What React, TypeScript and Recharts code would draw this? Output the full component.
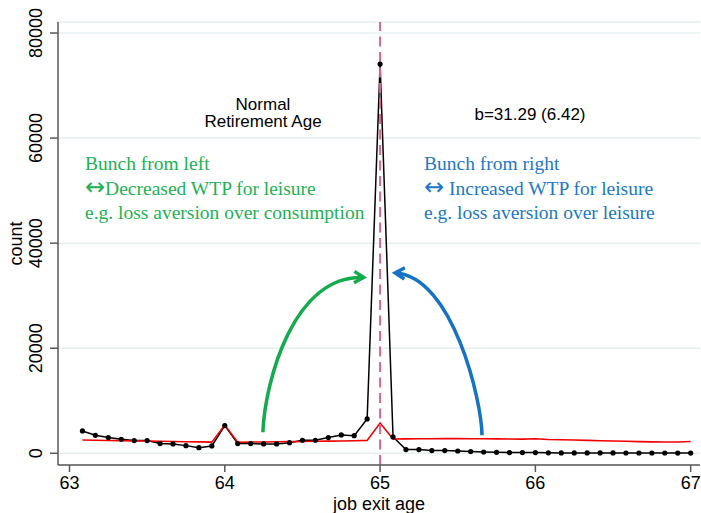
import React from 'react';
import { LineChart, Line, XAxis, YAxis, CartesianGrid, ReferenceLine, Customized } from 'recharts';

// months after age 63 (x positions = 63 + month/12)
const monthsAfter63 = [
  1, 2, 3, 4, 5, 6, 7, 8, 9, 10, 11, 12,
  13, 14, 15, 16, 17, 18, 19, 20, 21, 22, 23, 24,
  25, 26, 27, 28, 29, 30, 31, 32, 33, 34, 35, 36,
  37, 38, 39, 40, 41, 42, 43, 44, 45, 46, 47, 48,
];

// observed job exits (black, with markers)
const observedCount = [
  4250, 3430, 2990, 2670, 2420, 2420, 1850, 1780, 1460, 1080, 1400, 5270,
  1850, 1850, 1780, 1780, 2030, 2480, 2480, 2990, 3490, 3360, 6540, 74100,
  3110, 700, 700, 510, 510, 440, 320, 250, 190, 130, 130, 130,
  90, 80, 75, 70, 70, 65, 60, 60, 55, 55, 50, 50,
];

// counterfactual fit (red)
const counterfactual = [
  2530, 2490, 2450, 2410, 2370, 2330, 2290, 2250, 2210, 2170, 2130, 5390,
  2100, 2130, 2160, 2190, 2220, 2250, 2280, 2310, 2350, 2390, 2460, 5770,
  2730, 2750, 2770, 2780, 2790, 2790, 2780, 2770, 2750, 2720, 2700, 2780,
  2640, 2580, 2520, 2460, 2400, 2340, 2280, 2230, 2180, 2150, 2140, 2260,
];

const xTicks = [63, 64, 65, 66, 67];
const yTicks = [0, 20000, 40000, 60000, 80000];

const rows = monthsAfter63.map((m, i) => ({
  age: 63 + m / 12,
  count: observedCount[i],
  cf: counterfactual[i],
}));

const SANS = '"Liberation Sans", Arial, sans-serif';
const SERIF = '"Liberation Serif", "Times New Roman", serif';
const ARROWFONT = '"DejaVu Sans", sans-serif';
const AXIS = '#595959';
const GREEN = '#14AA4E';
const BLUE = '#1673C4';
const GREEN_TXT = '#1DB254';
const BLUE_TXT = '#2278C4';

const YTick = (props: any) => {
  const { x, y, payload } = props;
  const bx = x - 6;
  return (
    <text x={bx} y={y} transform={`rotate(-90, ${bx}, ${y})`} textAnchor="middle"
      fontFamily={SANS} fontSize={18} fill="#000">{payload.value}</text>
  );
};

const XTick = (props: any) => {
  const { x, y, payload } = props;
  return (
    <text x={x} y={y + 15} textAnchor="middle" fontFamily={SANS} fontSize={18} fill="#000">{payload.value}</text>
  );
};

function arrowShape(color: string, c1: [number, number], c2: [number, number]) {
  return (props: any) => {
    const { x1, y1, x2, y2 } = props;
    const dx = x2 - x1;
    const dy = y2 - y1;
    const cx1 = x1 + c1[0] * dx;
    const cy1 = y1 + c1[1] * dy;
    const cx2 = x1 + c2[0] * dx;
    const cy2 = y1 + c2[1] * dy;
    const ang = Math.atan2(y2 - cy2, x2 - cx2);
    const L = 11;
    const h = (31 * Math.PI) / 180;
    const ax = x2 - L * Math.cos(ang - h);
    const ay = y2 - L * Math.sin(ang - h);
    const bx = x2 - L * Math.cos(ang + h);
    const by = y2 - L * Math.sin(ang + h);
    return (
      <g>
        <path d={`M${x1},${y1} C${cx1},${cy1} ${cx2},${cy2} ${x2},${y2}`} fill="none" stroke={color} strokeWidth={3.5} />
        <path d={`M${ax},${ay} L${x2},${y2} L${bx},${by}`} fill="none" stroke={color} strokeWidth={3.5} strokeLinejoin="miter" />
      </g>
    );
  };
}

const GreenArrow = arrowShape(GREEN, [0.02, 0.32], [0.3, 1.02]);
const BlueArrow = arrowShape(BLUE, [0.0, 0.2], [0.33, 0.98]);

const Annotations = () => (
  <g>
    <text textAnchor="middle" fontFamily={SANS} fontSize={17} fill="#000">
      <tspan x={263} y={110}>Normal</tspan>
      <tspan x={263} y={127}>Retirement Age</tspan>
    </text>
    <text x={530} y={119.5} textAnchor="middle" fontFamily={SANS} fontSize={17} fill="#000">b=31.29 (6.42)</text>

    <text x={85} y={170} fontFamily={SERIF} fontSize={19.5} fill={GREEN_TXT}>Bunch from left</text>
    <text x={85} y={194.5} fontFamily={SERIF} fontSize={19.5} fill={GREEN_TXT}>
      <tspan fontFamily={ARROWFONT} fontSize={24}>↔</tspan>Decreased WTP for leisure
    </text>
    <text x={85} y={219} fontFamily={SERIF} fontSize={19.5} fill={GREEN_TXT}>e.g. loss aversion over consumption</text>

    <text x={424} y={170} fontFamily={SERIF} fontSize={19.5} fill={BLUE_TXT}>Bunch from right</text>
    <text x={424} y={194.5} fontFamily={SERIF} fontSize={19.5} fill={BLUE_TXT}>
      <tspan fontFamily={ARROWFONT} fontSize={24}>↔</tspan> Increased WTP for leisure
    </text>
    <text x={424} y={219} fontFamily={SERIF} fontSize={19.5} fill={BLUE_TXT}>e.g. loss aversion over leisure</text>

    <text x={21.7} y={243.5} transform="rotate(-90, 21.7, 243.5)" textAnchor="middle" fontFamily={SANS} fontSize={18} fill="#000">count</text>
    <text x={379} y={510} textAnchor="middle" fontFamily={SANS} fontSize={18} fill="#000">job exit age</text>
  </g>
);

export default function App() {
  return (
    <div style={{ position: 'absolute', left: 0, top: 0, width: 701, height: 513, background: '#fff' }}>
      <LineChart width={701} height={513} data={rows} margin={{ top: 22, right: 1, bottom: 0, left: 0 }}>
        <CartesianGrid vertical={false} stroke="#E6EFF0" strokeWidth={1.5} />
        <XAxis dataKey="age" type="number" domain={[62.926, 67.06]} ticks={xTicks} allowDataOverflow
          height={48} tickSize={7} tick={<XTick />} axisLine={{ stroke: AXIS, strokeWidth: 1.5 }}
          tickLine={{ stroke: AXIS, strokeWidth: 1.5 }} />
        <YAxis type="number" domain={[-2227, 82094]} ticks={yTicks} allowDataOverflow width={58}
          tickSize={8} tick={<YTick />} axisLine={{ stroke: AXIS, strokeWidth: 1.5 }}
          tickLine={{ stroke: AXIS, strokeWidth: 1.5 }} />
        <Line type="linear" dataKey="count" stroke="#000" strokeWidth={1.5}
          dot={{ r: 2.6, fill: '#000', stroke: 'none' }} activeDot={false} isAnimationActive={false} />
        <Line type="linear" dataKey="cf" stroke="#F00000" strokeWidth={1.6} dot={false} activeDot={false}
          isAnimationActive={false} />
        <ReferenceLine x={65} stroke="#D9668C" strokeWidth={2} strokeDasharray="10 5.5" />
        <ReferenceLine segment={[{ x: 64.245, y: 4000 }, { x: 64.894, y: 33470 }]} shape={GreenArrow} />
        <ReferenceLine segment={[{ x: 65.656, y: 3430 }, { x: 65.097, y: 34340 }]} shape={BlueArrow} />
        <Customized component={Annotations} />
      </LineChart>
    </div>
  );
}
